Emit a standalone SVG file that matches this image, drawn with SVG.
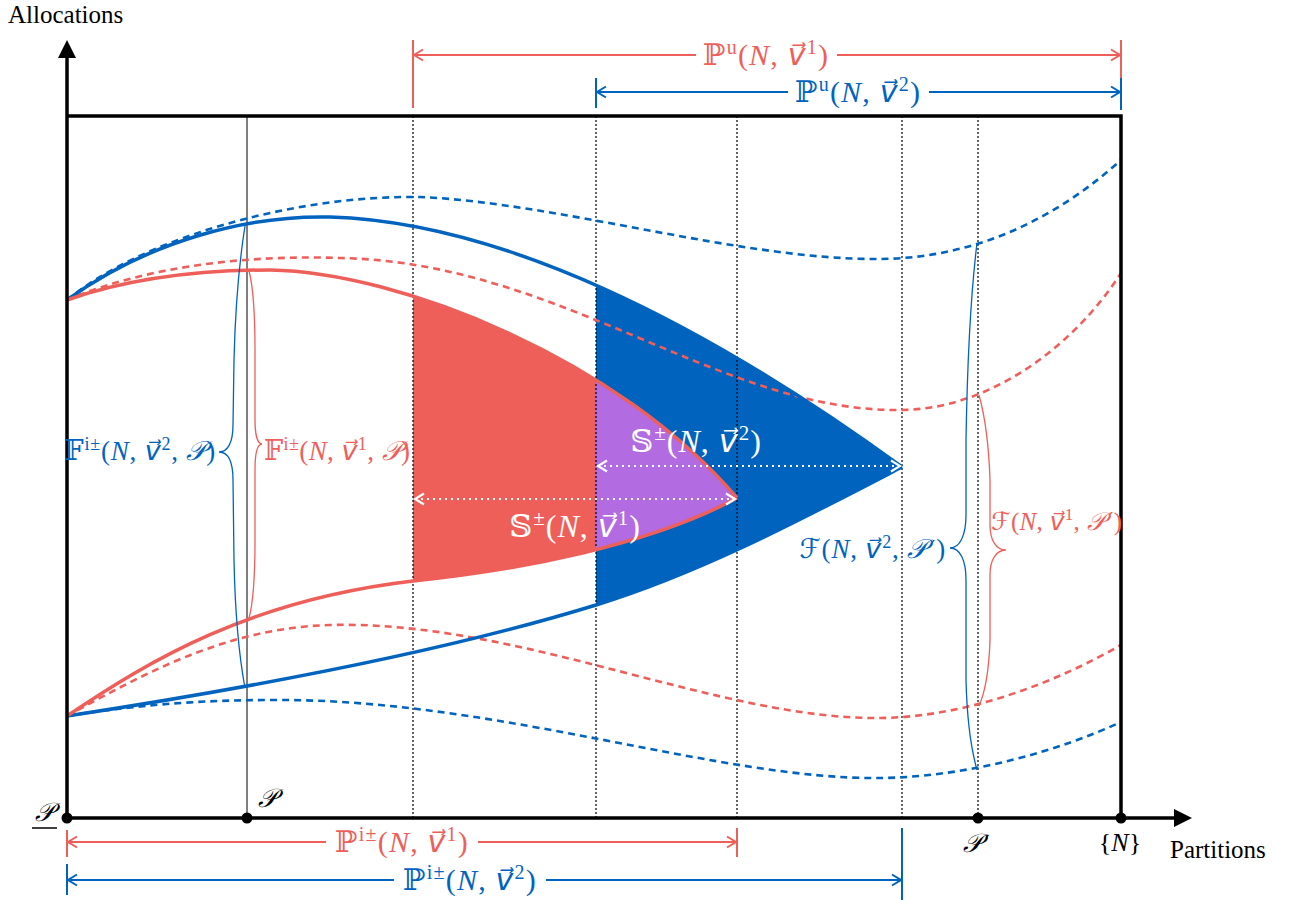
<svg xmlns="http://www.w3.org/2000/svg" width="1293" height="900" viewBox="0 0 1293 900">
<style>
.t{font-family:"Liberation Serif","DejaVu Serif",serif;}
.m{font-family:"Liberation Serif","DejaVu Serif","DejaVu Sans",serif;}
.i{font-style:italic;}
.pr{font-family:"DejaVu Sans",sans-serif;font-style:normal;}
.red{fill:#EE5F5A;}
.blue{fill:#0063BE;}
.wh{fill:#ffffff;}
.sr{stroke:#EE5F5A;fill:none;}
.sb{stroke:#0063BE;fill:none;}
.sol{stroke-width:3.5;}
.dsh{stroke-width:2.6;stroke-dasharray:7,5;}
.dot{stroke:#000;stroke-width:1.2;stroke-dasharray:2,2;fill:none;}
.br{stroke-width:1.3;fill:none;}
.axis{stroke:#000;stroke-width:3.5;fill:none;}
.pl{font-size:30px;letter-spacing:1.2px;}
.fl{font-size:27px;letter-spacing:0.8px;}
.sl{font-size:32px;letter-spacing:1px;}
</style>
<defs>
<clipPath id="cR"><rect x="413" y="100" width="800" height="760"/></clipPath>
<clipPath id="cB"><rect x="596" y="100" width="800" height="760"/></clipPath>
<marker id="aR" viewBox="0 0 14 14" refX="12" refY="7" markerWidth="14" markerHeight="14" markerUnits="userSpaceOnUse" orient="auto-start-reverse"><path d="M3,1.5 L12,7 L3,12.5" fill="none" stroke="#EE5F5A" stroke-width="2"/></marker>
<marker id="aB" viewBox="0 0 14 14" refX="12" refY="7" markerWidth="14" markerHeight="14" markerUnits="userSpaceOnUse" orient="auto-start-reverse"><path d="M3,1.5 L12,7 L3,12.5" fill="none" stroke="#0063BE" stroke-width="2"/></marker>
<marker id="aW" viewBox="0 0 14 14" refX="12" refY="7" markerWidth="14" markerHeight="14" markerUnits="userSpaceOnUse" orient="auto-start-reverse"><path d="M3,1.5 L12,7 L3,12.5" fill="none" stroke="#ffffff" stroke-width="2.2"/></marker>
<path id="redShape" d="M67,300 C130,278 200,270 270,270 C400,272 620,360 737,498 C650,545 520,570 413,581 C250,600 150,660 67,716 Z"/>
</defs>

<g id="fills">
<use href="#redShape" fill="#EE5F5A" clip-path="url(#cR)"/>
<path d="M67,300 C150,240 250,215 330,217 C500,222 700,320 902,467 C800,520 700,573 596,605 C450,650 250,688 67,716 Z" fill="#0063BE" clip-path="url(#cB)"/>
<use href="#redShape" fill="#B26BE0" clip-path="url(#cB)"/>
</g>

<g id="grid">
<line x1="247" y1="116" x2="247" y2="818" stroke="#555" stroke-width="1.5"/>
<line class="dot" x1="413" y1="116" x2="413" y2="818"/>
<line class="dot" x1="596" y1="116" x2="596" y2="818"/>
<line class="dot" x1="737" y1="116" x2="737" y2="818"/>
<line class="dot" x1="902" y1="116" x2="902" y2="818"/>
<line class="dot" x1="978" y1="116" x2="978" y2="818"/>
</g>

<g id="curves">
<path class="sb dsh" d="M67,300 C140,240 290,195 420,197 C560,203 740,260 880,259 C980,258 1060,215 1121,160"/>
<path class="sr dsh" d="M67,300 C150,265 250,255 340,258 C560,262 720,412 900,410 C990,410 1075,345 1121,273"/>
<path class="sr dsh" d="M67,716 C150,670 230,628 330,625 C520,620 720,720 880,718 C970,717 1060,680 1121,645"/>
<path class="sb dsh" d="M67,716 C150,703 210,700 280,700 C500,700 720,780 880,778 C970,777 1060,750 1121,722"/>
<path class="sb sol" d="M67,300 C150,240 250,215 330,217 C500,222 700,320 902,467"/>
<path class="sb sol" d="M67,716 C250,688 450,650 596,605 C700,573 800,520 902,467"/>
<path class="sr sol" d="M67,300 C130,278 200,270 270,270 C400,272 620,360 737,498"/>
<path class="sr sol" d="M67,716 C150,660 250,600 413,581 C520,570 650,545 737,498"/>
</g>

<g id="axes">
<line class="axis" x1="67" y1="818" x2="67" y2="55"/>
<polygon points="67,40 58,58 76,58" fill="#000"/>
<line class="axis" x1="67" y1="818" x2="1176" y2="818"/>
<polygon points="1192,818 1174,809 1174,827" fill="#000"/>
<polyline class="axis" points="67,116 1121,116 1121,818"/>
<circle cx="67" cy="818" r="5.5" fill="#000"/>
<circle cx="247" cy="818" r="5.5" fill="#000"/>
<circle cx="978" cy="818" r="5.5" fill="#000"/>
<circle cx="1121" cy="818" r="5.5" fill="#000"/>
<text class="t" x="8" y="23" font-size="25">Allocations</text>
<text class="t" x="1170" y="858" font-size="25">Partitions</text>
<text class="m i" x="44" y="821" font-size="26" text-anchor="middle">𝒫</text>
<line x1="32" y1="828" x2="57" y2="828" stroke="#000" stroke-width="1.5"/>
<text class="m i" x="267" y="807" font-size="26" text-anchor="middle">𝒫</text>
<text class="m i" x="972" y="852" font-size="26" text-anchor="middle">𝒫</text>
<text class="pr" x="985" y="849" font-size="20">′</text>
<text class="m" x="1120" y="851" font-size="26" text-anchor="middle">{<tspan class="i">N</tspan>}</text>
</g>

<g id="measures">
<line x1="413" y1="40" x2="413" y2="108" stroke="#EE5F5A" stroke-width="2"/>
<line x1="1121" y1="40" x2="1121" y2="100" stroke="#EE5F5A" stroke-width="2"/>
<line class="sr" stroke-width="2" x1="414" y1="55" x2="1120" y2="55" marker-start="url(#aR)" marker-end="url(#aR)"/>
<rect x="696" y="38" width="141" height="34" fill="#fff"/>
<text class="m red pl" x="766" y="65" text-anchor="middle">ℙ<tspan font-size="20" dy="-11">u</tspan><tspan dy="11">(</tspan><tspan class="i">N</tspan>, <tspan class="i">v⃗</tspan><tspan font-size="20" dy="-11">1</tspan><tspan dy="11">)</tspan></text>

<line x1="596" y1="78" x2="596" y2="108" stroke="#0063BE" stroke-width="2"/>
<line x1="1121" y1="78" x2="1121" y2="110" stroke="#0063BE" stroke-width="2"/>
<line class="sb" stroke-width="2" x1="597" y1="92" x2="1120" y2="92" marker-start="url(#aB)" marker-end="url(#aB)"/>
<rect x="788" y="76" width="141" height="32" fill="#fff"/>
<text class="m blue pl" x="858" y="102" text-anchor="middle">ℙ<tspan font-size="20" dy="-11">u</tspan><tspan dy="11">(</tspan><tspan class="i">N</tspan>, <tspan class="i">v⃗</tspan><tspan font-size="20" dy="-11">2</tspan><tspan dy="11">)</tspan></text>

<line x1="67" y1="830" x2="67" y2="857" stroke="#EE5F5A" stroke-width="2"/>
<line x1="737" y1="828" x2="737" y2="857" stroke="#EE5F5A" stroke-width="2"/>
<line class="sr" stroke-width="2" x1="68" y1="842" x2="736" y2="842" marker-start="url(#aR)" marker-end="url(#aR)"/>
<rect x="326" y="826" width="152" height="32" fill="#fff"/>
<text class="m red pl" x="402" y="852" text-anchor="middle">ℙ<tspan font-size="20" dy="-11">i±</tspan><tspan dy="11">(</tspan><tspan class="i">N</tspan>, <tspan class="i">v⃗</tspan><tspan font-size="20" dy="-11">1</tspan><tspan dy="11">)</tspan></text>

<line x1="67" y1="864" x2="67" y2="895" stroke="#0063BE" stroke-width="2"/>
<line x1="902" y1="828" x2="902" y2="900" stroke="#0063BE" stroke-width="2"/>
<line class="sb" stroke-width="2" x1="68" y1="880" x2="901" y2="880" marker-start="url(#aB)" marker-end="url(#aB)"/>
<rect x="394" y="864" width="152" height="32" fill="#fff"/>
<text class="m blue pl" x="470" y="890" text-anchor="middle">ℙ<tspan font-size="20" dy="-11">i±</tspan><tspan dy="11">(</tspan><tspan class="i">N</tspan>, <tspan class="i">v⃗</tspan><tspan font-size="20" dy="-11">2</tspan><tspan dy="11">)</tspan></text>
</g>

<g id="spans">
<line stroke="#fff" stroke-width="2.2" stroke-dasharray="2,4" x1="598" y1="466" x2="900" y2="466" marker-start="url(#aW)" marker-end="url(#aW)"/>
<line stroke="#fff" stroke-width="2.2" stroke-dasharray="2,4" x1="415" y1="499" x2="735" y2="499" marker-start="url(#aW)" marker-end="url(#aW)"/>
<text class="m wh sl" x="696" y="452" text-anchor="middle">𝕊<tspan font-size="21" dy="-12">±</tspan><tspan dy="12">(</tspan><tspan class="i">N</tspan>, <tspan class="i">v⃗</tspan><tspan font-size="21" dy="-12">2</tspan><tspan dy="12">)</tspan></text>
<text class="m wh sl" x="575" y="537" text-anchor="middle">𝕊<tspan font-size="21" dy="-12">±</tspan><tspan dy="12">(</tspan><tspan class="i">N</tspan>, <tspan class="i">v⃗</tspan><tspan font-size="21" dy="-12">1</tspan><tspan dy="12">)</tspan></text>
</g>

<g id="braces">
<path class="sb br" d="M245,226 C238,270 235,320 234,360 L233,425 C233,442 228,452 219,452 C228,452 233,462 233,480 L234,560 C235,610 238,650 245,688"/>
<text class="m blue fl" x="216" y="460" text-anchor="end">𝔽<tspan font-size="18" dy="-10">i±</tspan><tspan dy="10">(</tspan><tspan class="i">N</tspan>, <tspan class="i">v⃗</tspan><tspan font-size="18" dy="-10">2</tspan><tspan dy="10">, </tspan><tspan class="i">𝒫</tspan>)</text>
<path class="sr br" d="M249,271 C254,290 255,320 255,350 L255,420 C255,436 258,444 262,444 C258,444 255,452 255,470 L255,540 C255,570 254,600 249,618"/>
<text class="m red" x="264" y="460" font-size="27" letter-spacing="0.4">𝔽<tspan font-size="18" dy="-10">i±</tspan><tspan dy="10">(</tspan><tspan class="i">N</tspan>, <tspan class="i">v⃗</tspan><tspan font-size="18" dy="-10">1</tspan><tspan dy="10">, </tspan><tspan class="i">𝒫</tspan>)</text>
<path class="sb br" d="M977,243 C970,300 967,380 966,440 L966,515 C966,535 960,548 950,548 C960,548 966,560 966,580 L966,680 C967,720 970,745 977,770"/>
<text class="m blue fl" x="946" y="558" text-anchor="end">ℱ(<tspan class="i">N</tspan>, <tspan class="i">v⃗</tspan><tspan font-size="18" dy="-10">2</tspan><tspan dy="10">, </tspan><tspan class="i">𝒫</tspan><tspan class="pr" dx="4" font-size="20" dy="-4">′</tspan><tspan dy="4">)</tspan></text>
<path class="sr br" d="M979,395 C986,420 989,450 990,480 L990,525 C990,540 996,550 1006,550 C996,550 990,560 990,575 L990,640 C989,670 986,690 979,706"/>
<text class="m red" x="991" y="530" font-size="25" letter-spacing="0.3">ℱ(<tspan class="i">N</tspan>, <tspan class="i">v⃗</tspan><tspan font-size="17" dy="-10">1</tspan><tspan dy="10">, </tspan><tspan class="i">𝒫</tspan><tspan class="pr" dx="4" font-size="19" dy="-4">′</tspan><tspan dy="4">)</tspan></text>
</g>
</svg>
